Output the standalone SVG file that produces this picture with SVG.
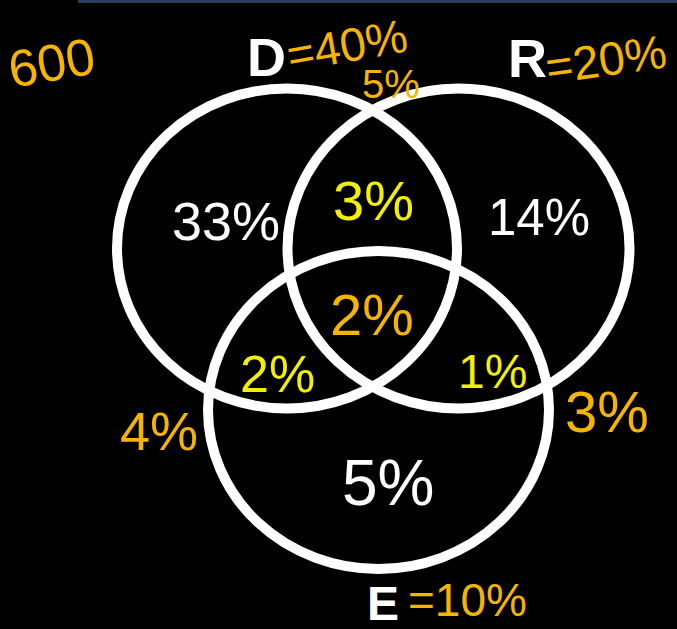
<svg xmlns="http://www.w3.org/2000/svg" width="677" height="629" viewBox="0 0 677 629">
<style>
.ring{fill:none;stroke:#ffffff;stroke-width:10}
.set{font-family:"Liberation Sans",Arial,sans-serif;font-weight:bold;fill:#ffffff}
.hand{font-family:"Liberation Sans",Arial,sans-serif;font-weight:normal}
.org{fill:#f5b400}
.yel{fill:#f2f000}
.wht{fill:#ffffff}
</style>
<rect x="0" y="0" width="677" height="629" fill="#000000"/>
<rect x="78" y="0" width="599" height="3" fill="#2b3d5c"/>
<g id="connectors"></g>
<g id="node-D">
<ellipse class="ring" cx="287" cy="248.5" rx="170" ry="160"/>
<text class="set" x="247" y="76" font-size="54">D</text>
<text class="hand org" x="290" y="72" font-size="47" transform="rotate(-10 290 72)">=40%</text>
</g>
<g id="node-R">
<ellipse class="ring" cx="458.5" cy="248.5" rx="171" ry="160"/>
<text class="set" x="508" y="77" font-size="54">R</text>
<text class="hand org" x="548" y="84" font-size="47" transform="rotate(-8 548 84)">=20%</text>
</g>
<g id="node-E">
<ellipse class="ring" cx="378.5" cy="410" rx="170.5" ry="159"/>
<text class="set" x="367" y="620" font-size="48">E</text>
<text class="hand org" x="408" y="616" font-size="46">=10%</text>
</g>
<g id="labels">
<text class="hand org" x="12" y="88" font-size="52" transform="rotate(-10 12 88)">600</text>
<text class="hand org" x="362" y="98" font-size="40">5%</text>
<text class="hand wht" x="172" y="240" font-size="54">33%</text>
<text class="hand yel" x="333" y="220" font-size="56">3%</text>
<text class="hand wht" x="488" y="235" font-size="51">14%</text>
<text class="hand org" x="330" y="335" font-size="58">2%</text>
<text class="hand yel" x="240" y="392" font-size="52">2%</text>
<text class="hand yel" x="458" y="388" font-size="48">1%</text>
<text class="hand org" x="120" y="450" font-size="54">4%</text>
<text class="hand org" x="565" y="432" font-size="58">3%</text>
<text class="hand wht" x="342" y="505" font-size="64">5%</text>
</g>
</svg>
